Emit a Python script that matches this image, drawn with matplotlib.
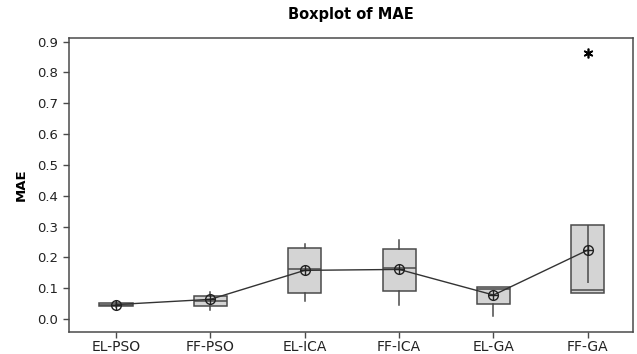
import numpy as np
import matplotlib
matplotlib.use("Agg")
import matplotlib.pyplot as plt

# valores
metodos = ["EL-PSO", "FF-PSO", "EL-ICA", "FF-ICA", "EL-GA", "FF-GA"]
q1 = [0.042, 0.043, 0.083, 0.092, 0.048, 0.083]
mediana = [0.047, 0.058, 0.161, 0.165, 0.097, 0.094]
q3 = [0.052, 0.076, 0.229, 0.228, 0.105, 0.305]
bigote_inf = [0.039, 0.029, 0.058, 0.045, 0.010, 0.083]
bigote_sup = [0.055, 0.089, 0.242, 0.256, 0.105, 0.305]
medias = [0.047, 0.064, 0.158, 0.161, 0.078, 0.224]
atipicos = [[], [], [], [], [], [0.863]]
# linea interna en FF-GA (desde Q3 hacia abajo)
linea_ffga = 0.118

stats = []
for i, m in enumerate(metodos):
    stats.append({
        "label": m, "q1": q1[i], "med": mediana[i], "q3": q3[i],
        "whislo": bigote_inf[i], "whishi": bigote_sup[i], "fliers": atipicos[i],
    })

fig = plt.figure(figsize=(6.37, 3.54), dpi=100)
ax = fig.add_axes([0.108, 0.063, 0.886, 0.829])

pos = np.arange(1, len(metodos) + 1)
gris = "#4a4a4a"
ax.bxp(stats, positions=pos, widths=0.35, patch_artist=True, showcaps=False,
       boxprops=dict(facecolor="#d4d4d4", edgecolor=gris, linewidth=1.1),
       medianprops=dict(color=gris, linewidth=1.1),
       whiskerprops=dict(color=gris, linewidth=1.1),
       flierprops=dict(marker=(6, 2, 0), markersize=7, markerfacecolor="black",
                       markeredgecolor="black", markeredgewidth=1.2))

ax.vlines(pos[5], linea_ffga, q3[5], color=gris, linewidth=1.1)

# linea y simbolo de medias
ax.plot(pos, medias, color="#333333", linewidth=1.0, zorder=4)
ax.plot(pos, medias, "o", markersize=7, markerfacecolor="none",
        markeredgecolor="#222222", markeredgewidth=1.0, zorder=5)
ax.plot(pos, medias, "+", markersize=7, color="#222222",
        markeredgewidth=1.0, zorder=5)

ax.set_xlim(0.5, 6.48)
ax.set_ylim(-0.041, 0.911)
ax.set_yticks(np.arange(0, 1.0, 0.1))
ax.set_yticklabels([f"{v:.1f}" for v in np.arange(0, 1.0, 0.1)])
ax.set_xticks(pos)
ax.set_xticklabels(metodos)
ax.tick_params(axis="both", labelsize=9.5, length=4, width=1, color=gris,
               labelcolor="#222222")
ax.tick_params(axis="x", labelsize=10, pad=2)
for s in ax.spines.values():
    s.set_color(gris)
    s.set_linewidth(1.1)

ax.set_ylabel("MAE", fontsize=9.5, fontweight="bold", labelpad=7)
ax.set_title("Boxplot of MAE", fontsize=10.5, fontweight="bold", pad=14)

fig.savefig("out.png", dpi=100)
